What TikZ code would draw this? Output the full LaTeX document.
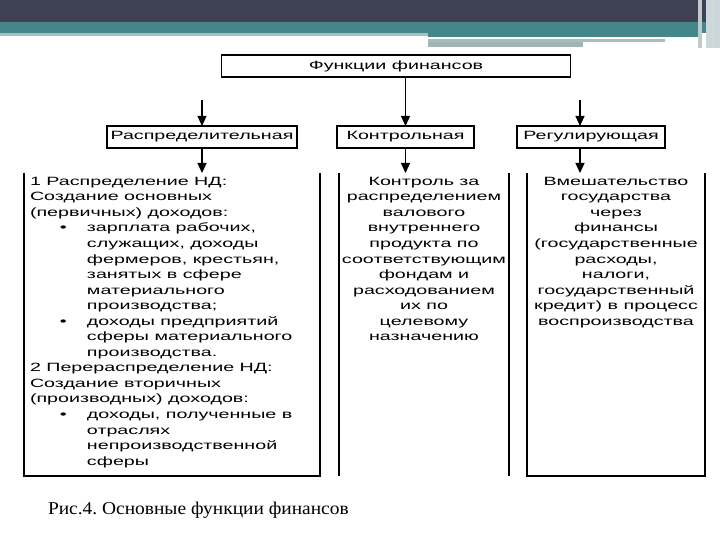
\documentclass[tikz,border=0pt]{standalone}
\usepackage{fontspec}
\setmainfont{Liberation Sans}
\newfontfamily\wf{Liberation Sans}[FakeStretch=1.64]
\newfontfamily\capf{Liberation Serif}[FakeStretch=1.08]
\usetikzlibrary{arrows.meta}
\definecolor{hdark}{HTML}{3E4253}
\definecolor{hteal}{HTML}{45868B}
\definecolor{hlight}{HTML}{A8BDC2}
\definecolor{hgray}{HTML}{A3B4B6}
\newcommand{\mybul}{\makebox[57pt][l]{\hspace{30pt}•}}
\newcommand{\myind}{\hspace*{57pt}}
\frenchspacing
\begin{document}
\begin{tikzpicture}[x=1pt,y=-1pt,
  every node/.style={inner sep=0pt, outer sep=0pt},
  lbl/.style={draw=black, line width=1.2pt, font=\wf\fontsize{12}{15.55}\selectfont, minimum height=22pt},
  body/.style={font=\wf\fontsize{12}{15.55}\selectfont},
  arr/.style={line width=1.1pt, -{Triangle[width=9pt,length=10pt]}},
  edgeline/.style={line width=1.3pt},
  heavyline/.style={line width=2.2pt}
]
\useasboundingbox (0,0) rectangle (720,540);
\fill[white] (0,0) rectangle (720,540);
% header
\fill[hdark] (0,0) rectangle (720,22);
\fill[hteal] (0,22) rectangle (720,33);
\fill[hlight] (0,33) rectangle (428,36);
\fill[hteal] (428,33) rectangle (700,37);
\fill[hlight] (428,39) rectangle (665,42);
\fill[hgray] (428,42) rectangle (583,47);
\fill[hgray!70] (698,0) rectangle (702,48);
\fill[hlight!60] (706,0) rectangle (720,48);
\fill[hgray!50] (712,0) rectangle (714,48);

% top boxes
\node[lbl, minimum width=349pt] (fin) at (396,66) {Функции финансов};
\node[lbl, minimum width=190pt] (rasp) at (202,137) {Распределительная};
\node[lbl, minimum width=137pt] (kont) at (405.5,137) {Контрольная};
\node[lbl, minimum width=148pt] (reg) at (591,137) {Регулирующая};

\coordinate (s1) at (202,100);
\coordinate (s3) at (580,100);
\draw[arr] (s1) -- (s1 |- rasp.north);
\draw[arr] (kont.north |- fin.south) -- (kont.north);
\draw[arr] (s3) -- (s3 |- reg.north);

% lower boxes
\node[minimum width=296pt, minimum height=303pt, anchor=north west] (lb) at (24,173) {};
\node[minimum width=170pt, minimum height=303pt, anchor=north west] (mb) at (339,173) {};
\node[minimum width=178pt, minimum height=303pt, anchor=north west] (rb) at (527,173) {};

\draw[edgeline] (lb.north west) -- (lb.south west) -- (lb.south east) -- (lb.north east);
\draw[heavyline] (lb.north west) -- (lb.south west);
\draw[heavyline] (mb.north west) -- (mb.south west);
\draw[edgeline] (mb.north east) -- (mb.south east);
\draw[edgeline] (rb.north west) -- (rb.south west) -- (rb.south east) -- (rb.north east);
\draw[heavyline] (rb.north east) -- (rb.south east);

\draw[arr] (rasp.south) -- (rasp.south |- lb.north);
\draw[arr] (kont.south) -- (kont.south |- mb.north);
\draw[arr] (s3 |- reg.south) -- (s3 |- rb.north);

% texts
\node[body, anchor=north west, align=left] (lt) at (30,177) {%
1 Распределение НД:\\
Создание основных\\
(первичных) доходов:\\
\mybul зарплата рабочих,\\
\myind служащих, доходы\\
\myind фермеров, крестьян,\\
\myind занятых в сфере\\
\myind материального\\
\myind производства;\\
\mybul доходы предприятий\\
\myind сферы материального\\
\myind производства.\\
2 Перераспределение НД:\\
Создание вторичных\\
(производных) доходов:\\
\mybul доходы, полученные в\\
\myind отраслях\\
\myind непроизводственной\\
\myind сферы};

\node[body, anchor=north, align=center] (mt) at (424,177) {%
Контроль за\\
распределением\\
валового\\
внутреннего\\
продукта по\\
соответствующим\\
фондам и\\
расходованием\\
их по\\
целевому\\
назначению};

\node[body, anchor=north, align=center] (rt) at (616,177) {%
Вмешательство\\
государства\\
через\\
финансы\\
(государственные\\
расходы,\\
налоги,\\
государственный\\
кредит) в процесс\\
воспроизводства};

\node[font=\capf\fontsize{18}{21}\selectfont, anchor=west] (cap) at (48,510) {Рис.4. Основные функции финансов};
\end{tikzpicture}
\end{document}
